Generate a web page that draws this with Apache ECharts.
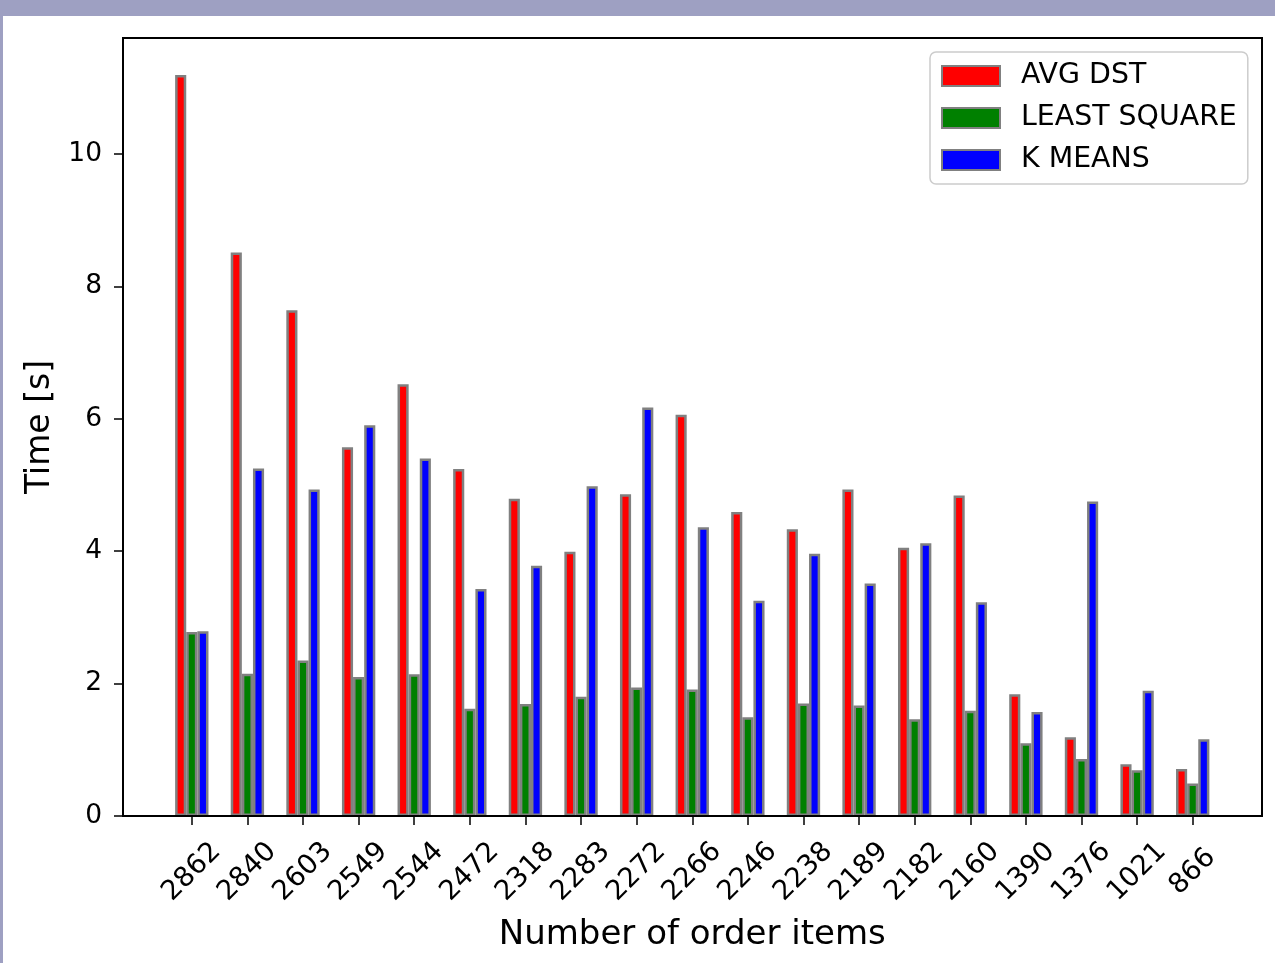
<!DOCTYPE html>
<html><head><meta charset="utf-8">
<script src="https://cdn.jsdelivr.net/npm/echarts@6/dist/echarts.min.js"></script>
<style>
html,body{margin:0;padding:0;width:1275px;height:963px;background:#9ea0c2;overflow:hidden;}
#chart{position:absolute;left:3px;top:16px;width:1272px;height:947px;background:#ffffff;}
</style></head><body><div id="chart"></div>
<script>
const categories = ['2862','2840','2603','2549','2544','2472','2318','2283','2272','2266','2246','2238','2189','2182','2160','1390','1376','1021','866'];
const avgDst      = [11.19, 8.51, 7.64, 5.57, 6.52, 5.24, 4.79, 3.99, 4.86, 6.06, 4.59, 4.33, 4.93, 4.05, 4.84, 1.84, 1.19, 0.78, 0.71];
const leastSquare = [2.78, 2.15, 2.35, 2.10, 2.14, 1.62, 1.69, 1.80, 1.94, 1.91, 1.49, 1.70, 1.67, 1.46, 1.59, 1.10, 0.86, 0.69, 0.49];
const kMeans      = [2.79, 5.25, 4.93, 5.90, 5.40, 3.43, 3.78, 4.98, 6.17, 4.36, 3.25, 3.96, 3.51, 4.12, 3.23, 1.57, 4.75, 1.89, 1.16];
const yTicks = [0, 2, 4, 6, 8, 10];
const seriesNames = ['AVG DST', 'LEAST SQUARE', 'K MEANS'];
const seriesColors = ['#ff0000', '#008000', '#0000ff'];
const yMax = 11.75;

const FONT = 'DejaVu Sans';
const chart = echarts.init(document.getElementById('chart'), null, {renderer: 'canvas'});
const seriesData = [avgDst, leastSquare, kMeans];

chart.setOption({
  animation: false,
  backgroundColor: '#ffffff',
  textStyle: {fontFamily: FONT},
  grid: [
    {left: 161, right: 54.5, top: 22, bottom: 147, containLabel: false},
    {left: 120, right: 13, top: 22, bottom: 147, show: true, borderColor: '#000000', borderWidth: 2, backgroundColor: 'transparent', z: 5}
  ],
  legend: {
    orient: 'vertical',
    left: 927, top: 36,
    padding: [10, 11, 10, 11],
    itemWidth: 58, itemHeight: 20, itemGap: 14,
    icon: 'rect',
    backgroundColor: 'rgba(255,255,255,0.8)',
    borderColor: '#cccccc', borderWidth: 1.5, borderRadius: 6,
    textStyle: {fontSize: 28.4, fontFamily: FONT, color: '#000000', lineHeight: 28, padding: [0, 0, 0, 16]},
    data: seriesNames
  },
  xAxis: [
    {
      type: 'category', gridIndex: 0, data: categories,
      axisLine: {show: false},
      axisTick: {show: true, alignWithLabel: true, length: 9, lineStyle: {color: '#000000', width: 1.5}},
      axisLabel: {interval: 0, rotate: 45, align: 'center', verticalAlign: 'middle', margin: 56, fontSize: 27.5, fontFamily: FONT, color: '#000000'},
      splitLine: {show: false},
      name: 'Number of order items', nameLocation: 'middle', nameGap: 102,
      nameTextStyle: {fontSize: 34, fontFamily: FONT, color: '#000000'}
    },
    {type: 'value', gridIndex: 1, show: false, min: 0, max: 1}
  ],
  yAxis: [
    {
      type: 'value', gridIndex: 0, min: 0, max: yMax, interval: 2, offset: 41,
      axisLine: {show: false},
      axisTick: {show: true, length: 9, lineStyle: {color: '#000000', width: 1.5}, customValues: yTicks},
      axisLabel: {fontSize: 26.5, fontFamily: FONT, color: '#000000', margin: 21, customValues: yTicks},
      splitLine: {show: false},
      name: 'Time [s]', nameLocation: 'middle', nameGap: 66,
      nameTextStyle: {fontSize: 33, fontFamily: FONT, color: '#000000'}
    },
    {type: 'value', gridIndex: 1, show: false, min: 0, max: 1}
  ],
  series: seriesNames.map((name, i) => ({
    name: name, type: 'bar', xAxisIndex: 0, yAxisIndex: 0,
    data: seriesData[i],
    barWidth: '20%', barGap: '0%',
    itemStyle: {color: seriesColors[i], borderColor: '#808080', borderWidth: 2.5}
  }))
});
</script></body></html>
